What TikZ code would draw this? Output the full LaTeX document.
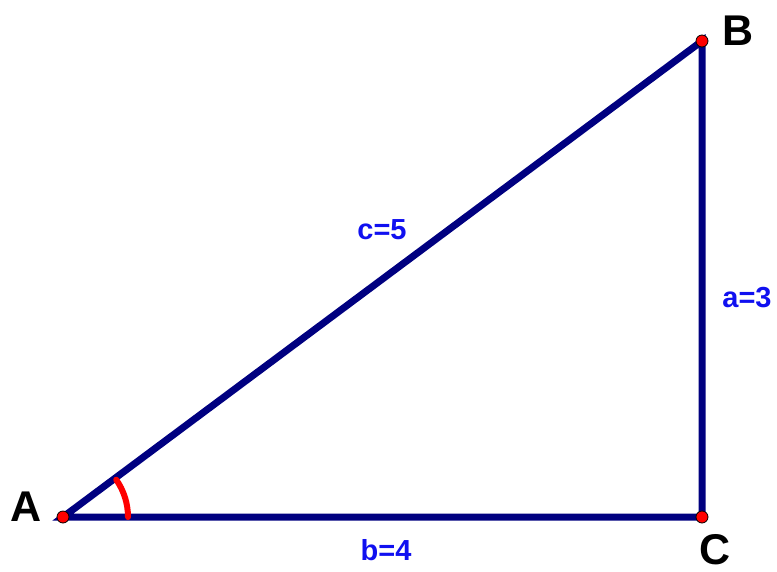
\documentclass[tikz,border=0pt]{standalone}
\usepackage{fontspec}
\setmainfont{Liberation Sans}
\definecolor{navyline}{HTML}{000080}
\definecolor{lblblue}{HTML}{1010F0}
\tikzset{
  side/.style={draw=navyline, line width=7pt, line cap=round},
  pt/.style={circle, fill=red, draw=black, line width=0.8pt, minimum size=12pt, inner sep=0pt},
  vlabel/.style={font=\bfseries\fontsize{43}{43}\selectfont, text=black, inner sep=0pt},
  slabel/.style={font=\bfseries\fontsize{29}{29}\selectfont, text=lblblue, inner sep=0pt}
}
\begin{document}
\begin{tikzpicture}[x=1pt,y=-1pt]
\useasboundingbox (0,0) rectangle (777,571);
\coordinate (A) at (63,517);
\coordinate (C) at (702,517);
\coordinate (B) at (702,41);
\draw[side] (A) -- (C) -- (B) -- cycle;
\draw[red, line width=6pt, line cap=round] (128,517) arc[start angle=0, end angle=-35, radius=65];
\node[pt] (pA) at (A) {};
\node[pt] (pB) at (B) {};
\node[pt] (pC) at (C) {};
\node[vlabel] (lA) at (26,507) {A};
\node[vlabel] (lB) at (738,31) {B};
\node[vlabel] (lC) at (715,550) {C};
\node[slabel] (lc) at (382,230) {c=5};
\node[slabel] (la) at (747,298) {a=3};
\node[slabel] (lb) at (386,550) {b=4};
\end{tikzpicture}
\end{document}
